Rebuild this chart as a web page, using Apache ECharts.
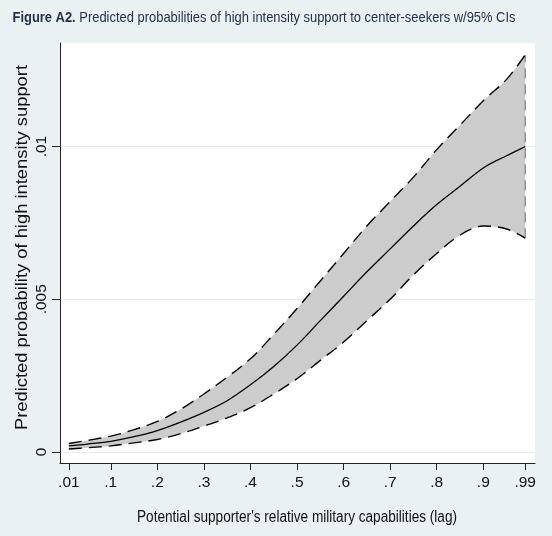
<!DOCTYPE html>
<html><head><meta charset="utf-8">
<script src="https://cdn.jsdelivr.net/npm/echarts@6/dist/echarts.min.js"></script>
<style>html,body{margin:0;padding:0;background:#e9f1f2;} #c{width:552px;height:536px;}</style>
</head><body><div id="c"></div><script>
const xValues     = [0.01, 0.05, 0.1, 0.15, 0.2, 0.25, 0.3, 0.35, 0.4, 0.45, 0.5, 0.55, 0.6, 0.65, 0.7, 0.75, 0.8, 0.85, 0.9, 0.95, 0.99];
const meanValues  = [0.0002, 0.00026, 0.00035, 0.0005, 0.0007, 0.00098, 0.0013, 0.00168, 0.0022, 0.0028, 0.0035, 0.0043, 0.0051, 0.0059, 0.00665, 0.0074, 0.0081, 0.0087, 0.0093, 0.0097, 0.0100];
const upperValues = [0.00028, 0.00038, 0.00052, 0.00073, 0.001, 0.0014, 0.0019, 0.00245, 0.00305, 0.00385, 0.0047, 0.0056, 0.0065, 0.0074, 0.0082, 0.0090, 0.0099, 0.0107, 0.0115, 0.0122, 0.0130];
const lowerValues = [0.0001, 0.00014, 0.0002, 0.0003, 0.00041, 0.0006, 0.00085, 0.00112, 0.00145, 0.0019, 0.0024, 0.003, 0.0036, 0.0043, 0.005, 0.0058, 0.0065, 0.0071, 0.0074, 0.0073, 0.0070];
const xTicks = [0.01, 0.1, 0.2, 0.3, 0.4, 0.5, 0.6, 0.7, 0.8, 0.9, 0.99];
const xTickLabels = ['.01', '.1', '.2', '.3', '.4', '.5', '.6', '.7', '.8', '.9', '.99'];
const yTicks = [0, 0.005, 0.01];
const yTickLabels = ['0', '.005', '.01'];
const titleBold = 'Figure A2.';
const titleText = 'Predicted probabilities of high intensity support to center-seekers w/95% CIs';
const xName = "Potential supporter's relative military capabilities (lag)";
const yName = 'Predicted probability of high intensity support';

const FONT = '"Liberation Sans", Arial, sans-serif';
const measureCtx = document.createElement('canvas').getContext('2d');
function textWidth(str, size, weight) {
  measureCtx.font = (weight || 'normal') + ' ' + size + 'px ' + FONT;
  return measureCtx.measureText(str).width;
}

// data in [y, x] order so the stack accumulates along y
const pairsYX = ys => xValues.map((x, i) => [ys[i], x]);
const pairs = ys => xValues.map((x, i) => [x, ys[i]]);
const bandWidth = upperValues.map((u, i) => u - lowerValues[i]);
const lastI = xValues.length - 1;

const titleW = textWidth(titleBold, 15, 'bold') + textWidth(' ' + titleText, 15);
const xNameW = textWidth(xName, 16);
const yNameW = textWidth(yName, 16.5);

const SMOOTH = 0.35;
const DASH = [13, 7];
const chart = echarts.init(document.getElementById('c'), null, {renderer: 'canvas'});
chart.setOption({
  animation: false,
  backgroundColor: '#e9f1f2',
  graphic: [
    {type: 'text', x: 12.5, y: 18, scaleX: 503 / titleW, scaleY: 1,
     style: {text: '{b|' + titleBold + '}{n| ' + titleText + '}', verticalAlign: 'middle', align: 'left',
       rich: {
         b: {fontFamily: FONT, fontSize: 15, fontWeight: 'bold', fill: '#26324d', color: '#26324d'},
         n: {fontFamily: FONT, fontSize: 15, fontWeight: 'normal', fill: '#26324d', color: '#26324d'}
       }}},
    {type: 'text', x: 297, y: 518, scaleX: 320 / xNameW, scaleY: 1,
     style: {text: xName, fontFamily: FONT, fontSize: 16, fill: '#111', align: 'center', verticalAlign: 'middle'}},
    {type: 'text', x: 22, y: 247.5, rotation: Math.PI / 2, scaleX: 365 / yNameW, scaleY: 1,
     style: {text: yName, fontFamily: FONT, fontSize: 16.5, fill: '#111', align: 'center', verticalAlign: 'middle'}}
  ],
  grid: {left: 60, right: 17, top: 43, bottom: 73, show: true, backgroundColor: '#ffffff', borderWidth: 0},
  xAxis: {
    type: 'value', min: -0.009, max: 1.011,
    axisLine: {show: true, onZero: false, lineStyle: {color: '#222', width: 1}},
    axisTick: {show: true, length: 7, customValues: xTicks, lineStyle: {color: '#222'}},
    axisLabel: {customValues: xTicks, margin: 12, fontFamily: FONT, fontSize: 15.5, color: '#111',
      formatter: v => xTickLabels[xTicks.findIndex(t => Math.abs(t - v) < 1e-9)]},
    splitLine: {show: false}
  },
  yAxis: {
    type: 'value', min: -0.00036, max: 0.01339,
    axisLine: {show: true, onZero: false, lineStyle: {color: '#222', width: 1}},
    axisTick: {show: true, length: 8, customValues: yTicks, lineStyle: {color: '#222'}},
    axisLabel: {customValues: yTicks, rotate: 90, margin: 10, fontFamily: FONT, fontSize: 15.5, color: '#111',
      formatter: v => yTickLabels[yTicks.findIndex(t => Math.abs(t - v) < 1e-12)]},
    splitLine: {show: true, lineStyle: {color: '#e3ecee', width: 1}}
  },
  series: [
    {type: 'line', stack: 'ci', data: pairsYX(lowerValues), encode: {x: 1, y: 0}, smooth: SMOOTH,
     symbol: 'none', lineStyle: {opacity: 0}, silent: true},
    {type: 'line', stack: 'ci', data: pairsYX(bandWidth), encode: {x: 1, y: 0}, smooth: SMOOTH,
     symbol: 'none', lineStyle: {opacity: 0}, areaStyle: {color: '#cccccc', opacity: 1}, silent: true},
    {type: 'line', data: [[xValues[lastI], lowerValues[lastI]], [xValues[lastI], upperValues[lastI]]], symbol: 'none',
     lineStyle: {color: '#808080', width: 1.2, type: [10, 6]}},
    {type: 'line', data: pairs(upperValues), smooth: SMOOTH, symbol: 'none', lineStyle: {color: '#000', width: 1.4, type: DASH}},
    {type: 'line', data: pairs(lowerValues), smooth: SMOOTH, symbol: 'none', lineStyle: {color: '#000', width: 1.4, type: DASH}},
    {type: 'line', data: pairs(meanValues), smooth: SMOOTH, symbol: 'none', lineStyle: {color: '#000', width: 1.3}}
  ]
});
</script></body></html>
